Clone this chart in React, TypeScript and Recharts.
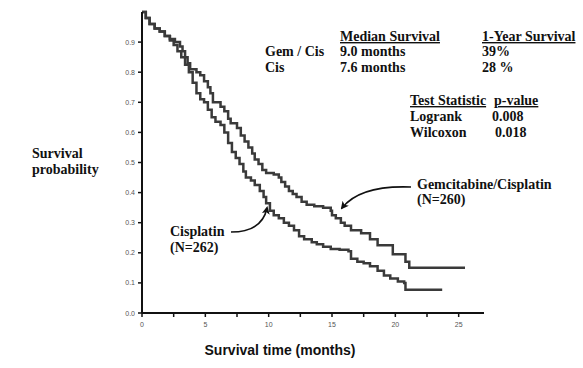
import React from "react";
import { LineChart, Line, XAxis, YAxis, Customized } from "recharts";

// Kaplan-Meier estimates (time in months, survival probability)
const gemCisTimes = [0, 0.3, 0.6, 1.0, 1.4, 1.8, 2.2, 2.6, 3.0, 3.2, 3.4, 3.6, 3.8, 4.3, 4.6, 4.9, 5.2, 5.4, 5.6, 6.2, 6.5, 6.8, 7.0, 7.5, 7.8, 8.1, 8.4, 8.7, 8.9, 9.2, 9.5, 9.8, 10.4, 10.8, 11.0, 11.3, 11.6, 11.9, 12.2, 12.6, 13.0, 13.6, 14.3, 14.9, 15.0, 15.3, 15.7, 16.0, 16.5, 17.3, 18.0, 18.6, 19.8, 20.8, 21.1, 25.5];
const gemCisSurvival = [1.0, 0.98, 0.96, 0.945, 0.935, 0.92, 0.91, 0.9, 0.885, 0.87, 0.85, 0.83, 0.81, 0.8, 0.79, 0.77, 0.75, 0.73, 0.7, 0.685, 0.67, 0.645, 0.63, 0.615, 0.59, 0.57, 0.55, 0.53, 0.51, 0.495, 0.475, 0.465, 0.46, 0.45, 0.435, 0.42, 0.405, 0.395, 0.385, 0.37, 0.36, 0.355, 0.35, 0.34, 0.325, 0.315, 0.3, 0.29, 0.275, 0.265, 0.245, 0.225, 0.195, 0.17, 0.15, 0.15];

const cisTimes = [0, 0.3, 0.6, 1.0, 1.4, 1.8, 2.2, 2.5, 2.8, 3.1, 3.4, 3.7, 4.0, 4.3, 4.6, 4.9, 5.2, 5.5, 5.8, 6.2, 6.5, 6.8, 7.1, 7.4, 7.7, 8.0, 8.2, 8.6, 8.9, 9.3, 9.6, 9.8, 10.1, 10.4, 10.8, 11.2, 11.6, 12.0, 12.4, 12.8, 13.4, 13.8, 14.3, 14.9, 15.6, 16.3, 16.5, 17.0, 17.5, 18.0, 18.6, 19.1, 19.6, 20.2, 20.7, 20.8, 23.7];
const cisSurvival = [1.0, 0.98, 0.96, 0.945, 0.935, 0.92, 0.905, 0.89, 0.87, 0.85, 0.825, 0.8, 0.765, 0.73, 0.71, 0.7, 0.675, 0.65, 0.635, 0.625, 0.6, 0.565, 0.535, 0.515, 0.495, 0.47, 0.45, 0.44, 0.425, 0.405, 0.385, 0.365, 0.34, 0.325, 0.315, 0.3, 0.29, 0.275, 0.255, 0.245, 0.235, 0.228, 0.22, 0.213, 0.21, 0.205, 0.18, 0.17, 0.165, 0.155, 0.14, 0.125, 0.115, 0.105, 0.1, 0.077, 0.077];

const xTicks = [0, 2.5, 5, 7.5, 10, 12.5, 15, 17.5, 20, 22.5, 25];
const yTicks = [0, 0.1, 0.2, 0.3, 0.4, 0.5, 0.6, 0.7, 0.8, 0.9];

const gemCisData = gemCisTimes.map((t, i) => ({ t, s: gemCisSurvival[i] }));
const cisData = cisTimes.map((t, i) => ({ t, s: cisSurvival[i] }));

const serif = "'Liberation Serif', 'Times New Roman', serif";
const sans = "'Liberation Sans', Arial, sans-serif";

const XTick = (props: any) => {
  const { x, y, payload } = props;
  if (payload.value % 5 !== 0) return <g />;
  return (
    <text x={x} y={y + 8} textAnchor="middle" fontSize={7} fill="#555" fontFamily={sans}>
      {payload.value}
    </text>
  );
};

const YTick = (props: any) => {
  const { x, y, payload } = props;
  return (
    <text x={x - 1} y={y + 2.5} textAnchor="end" fontSize={7} fill="#555" fontFamily={sans}>
      {payload.value.toFixed(1)}
    </text>
  );
};

const Annotations = () => {
  const t = { fontFamily: serif, fontWeight: 700, fontSize: 14, fill: "#111" } as const;
  return (
    <g>
      <defs>
        <marker id="ah" markerWidth="8" markerHeight="8" refX="6" refY="4" orient="auto" markerUnits="userSpaceOnUse">
          <path d="M0,0 L8,4 L0,8 L2,4 Z" fill="#111" />
        </marker>
      </defs>
      <text x={340} y={41} {...t} textDecoration="underline">Median Survival</text>
      <text x={482} y={41} {...t} textDecoration="underline">1-Year Survival</text>
      <text x={265} y={56} {...t}>Gem / Cis</text>
      <text x={340} y={56} {...t}>9.0 months</text>
      <text x={482} y={56} {...t}>39%</text>
      <text x={265} y={72} {...t}>Cis</text>
      <text x={340} y={72} {...t}>7.6 months</text>
      <text x={482} y={72} {...t}>28 %</text>
      <text x={410} y={105} {...t} textDecoration="underline">Test Statistic</text>
      <text x={494} y={105} {...t} textDecoration="underline">p-value</text>
      <text x={410} y={121} {...t}>Logrank</text>
      <text x={492} y={121} {...t}>0.008</text>
      <text x={410} y={137} {...t}>Wilcoxon</text>
      <text x={495} y={137} {...t}>0.018</text>

      <text x={32} y={158} {...t}>Survival</text>
      <text x={32} y={174} {...t}>probability</text>

      <text x={170} y={236} {...t}>Cisplatin</text>
      <text x={170} y={252} {...t}>(N=262)</text>
      <text x={417} y={189} {...t}>Gemcitabine/Cisplatin</text>
      <text x={417} y={204} {...t}>(N=260)</text>

      <path d="M231,232 Q262,232 267,208" fill="none" stroke="#111" strokeWidth={1.6} markerEnd="url(#ah)" />
      <path d="M411,187 Q360,185 342,208" fill="none" stroke="#111" strokeWidth={1.6} markerEnd="url(#ah)" />

      <text x={280} y={355} textAnchor="middle" fontFamily={sans} fontWeight={700} fontSize={14} fill="#111">
        Survival time (months)
      </text>
    </g>
  );
};

export default function App() {
  return (
    <div style={{ position: "absolute", left: 0, top: 0, background: "#fff" }}>
      <LineChart width={583} height={368} margin={{ top: 12, right: 99, bottom: 35, left: 102 }}>
        <XAxis
          type="number"
          dataKey="t"
          domain={[0, 27]}
          ticks={xTicks}
          interval={0}
          allowDataOverflow
          height={20}
          axisLine={{ stroke: "#111", strokeWidth: 2 }}
          tickLine={{ stroke: "#111", strokeWidth: 1.5 }}
          tickSize={4}
          tick={<XTick />}
        />
        <YAxis
          type="number"
          dataKey="s"
          domain={[0, 1]}
          ticks={yTicks}
          interval={0}
          width={40}
          axisLine={{ stroke: "#111", strokeWidth: 2 }}
          tickLine={{ stroke: "#111", strokeWidth: 1.5 }}
          tickSize={4}
          tick={<YTick />}
        />
        <Line data={gemCisData} dataKey="s" type="stepAfter" stroke="#3a3a3a" strokeWidth={2.5} dot={false} isAnimationActive={false} />
        <Line data={cisData} dataKey="s" type="stepAfter" stroke="#3a3a3a" strokeWidth={2.5} dot={false} isAnimationActive={false} />
        <Customized component={Annotations} />
      </LineChart>
    </div>
  );
}
